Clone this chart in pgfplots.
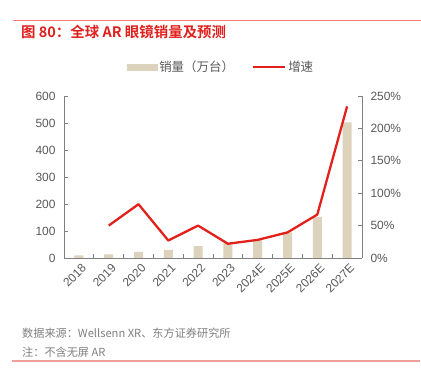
\documentclass[border=0pt]{standalone}
\usepackage{pgfplots}
\pgfplotsset{compat=1.18}
\usepackage{fontspec}
\setmainfont{Liberation Sans}
\newfontfamily\cjk{Noto Sans CJK SC}[BoldFont={Noto Sans CJK SC Bold}]
\definecolor{beige}{HTML}{DDD3BC}
\definecolor{linered}{HTML}{E3211C}
\definecolor{titlered}{HTML}{E0201C}
\definecolor{ruletop}{HTML}{F07878}
\definecolor{rulebot}{HTML}{F0A098}
\definecolor{ticktext}{HTML}{595959}
\definecolor{axisgray}{HTML}{808080}
\definecolor{srcgray}{HTML}{7F7F7F}
\begin{document}
\begin{tikzpicture}[x=1bp,y=1bp]
\path[use as bounding box] (0,0) rectangle (421,375);
\draw[color=ruletop, line width=0.9bp] (13,355) -- (421,355);
\node[anchor=west, inner sep=0, text=titlered, font=\cjk\bfseries\fontsize{14.5}{16}\selectfont] at (21,343) {图 80：全球 AR 眼镜销量及预测};
\begin{axis}[
  at={(64bp,117bp)}, anchor=south west,
  width=298bp, height=162bp, scale only axis,
  xmin=-0.5, xmax=9.5, ymin=0, ymax=600,
  axis y line*=left, axis x line*=bottom,
  axis line style={axisgray, line width=0.8bp},
  ytick={0,100,...,600},
  xtick={0,...,9},
  xticklabels={2018,2019,2020,2021,2022,2023,2024E,2025E,2026E,2027E},
  minor xtick={0.5,1.5,...,8.5},
  major x tick style={draw=none},
  tick style={axisgray, line width=0.8bp},
  major tick length=4bp, minor tick length=4bp,
  tick align=inside,
  /pgf/number format/assume math mode=true,
  tick label style={text=ticktext, font=\fontsize{12}{14}\selectfont},
  y tick label style={xshift=-5bp},
  x tick label style={rotate=45, anchor=north east, inner sep=2bp, yshift=-3bp},
  clip=false,
]
\addplot[ybar, bar width=9bp, fill=beige, draw=none] coordinates {
  (0,10) (1,13) (2,23) (3,30) (4,44) (5,55) (6,67) (7,95) (8,152) (9,502)
};
\end{axis}
\begin{axis}[
  at={(64bp,117bp)}, anchor=south west,
  width=298bp, height=162bp, scale only axis,
  xmin=-0.5, xmax=9.5, ymin=0, ymax=250,
  axis y line*=right, axis x line=none,
  axis line style={axisgray, line width=0.8bp},
  ytick={0,50,...,250},
  yticklabel={\pgfmathprintnumber{\tick}\%},
  tick style={axisgray, line width=0.8bp},
  major tick length=4bp,
  tick align=inside,
  /pgf/number format/assume math mode=true,
  tick label style={text=ticktext, font=\fontsize{12}{14}\selectfont},
  y tick label style={xshift=5bp},
  legend columns=2,
  legend style={at={(0.527,1.179)}, anchor=center, draw=none, fill=none,
    font=\cjk\fontsize{12.5}{14}\selectfont, text=ticktext,
    /tikz/every even column/.append style={column sep=16bp}},
  clip=false,
]
\addlegendimage{legend image code/.code={\fill[beige] (0bp,-3bp) rectangle (30bp,3bp);}}
\addlegendentry{销量（万台）}
\addplot[linered, line width=2.3bp, line join=round, mark=none,
  legend image code/.code={\draw[linered, line width=2.3bp] (0bp,0bp) -- (32bp,0bp);}]
  coordinates {(1,50) (2,83) (3,27) (4,50) (5,22) (6,28) (7,39.5) (8,67) (9,234)};
\addlegendentry{增速}
\end{axis}
\node[anchor=west, inner sep=0, text=srcgray, font=\cjk\fontsize{11.2}{13}\selectfont] at (22,42) {数据来源：Wellsenn XR、东方证券研究所};
\node[anchor=west, inner sep=0, text=srcgray, font=\cjk\fontsize{11.2}{13}\selectfont] at (22,23) {注：不含无屏 AR};
\draw[color=rulebot, line width=1.2bp] (12,14) -- (420,14);
\end{tikzpicture}
\end{document}
